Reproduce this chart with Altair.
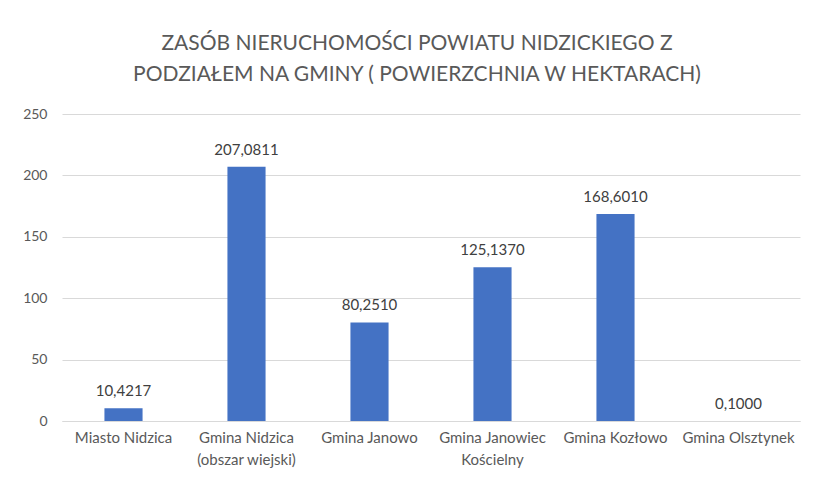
import altair as alt
import pandas as pd

categories = [
    "Miasto Nidzica",
    "Gmina Nidzica\n(obszar wiejski)",
    "Gmina Janowo",
    "Gmina Janowiec\nKościelny",
    "Gmina Kozłowo",
    "Gmina Olsztynek",
]
values = [10.4217, 207.0811, 80.2510, 125.1370, 168.6010, 0.1000]

df = pd.DataFrame({"gmina": categories, "ha": values})

FONT = "Lato"
GRAY = "#595959"

base = alt.Chart(df).encode(
    x=alt.X(
        "gmina:N",
        sort=categories,
        title=None,
        scale=alt.Scale(paddingInner=0.69, paddingOuter=0.345),
        axis=alt.Axis(
            labelAngle=0,
            labelExpr="split(datum.label, '\\n')",
            labelFontSize=15,
            labelColor=GRAY,
            labelFont=FONT,
            labelPadding=9,
            labelLineHeight=22,
            ticks=False,
            grid=False,
            domainColor="#d9d9d9",
            labelLimit=200,
        ),
    ),
    y=alt.Y(
        "ha:Q",
        title=None,
        scale=alt.Scale(domain=[0, 250]),
        axis=alt.Axis(
            values=[0, 50, 100, 150, 200, 250],
            labelFontSize=14,
            labelColor=GRAY,
            labelFont=FONT,
            labelPadding=15,
            ticks=False,
            domain=False,
            gridColor="#d9d9d9",
        ),
    ),
)

bars = base.mark_bar(color="#4472C4")

labels = base.transform_calculate(
    lbl="replace(format(datum.ha, '.4f'), '.', ',')"
).mark_text(
    baseline="bottom", dy=-9, fontSize=15, font=FONT, color="#404040"
).encode(text="lbl:N")

chart = (
    alt.layer(bars, labels)
    .properties(
        width=738,
        height=307,
        background="white",
        padding={"left": 54, "top": 106, "right": 6, "bottom": 51},
        autosize=alt.AutoSizeParams(type="none"),
        title=alt.TitleParams(
            text=[
                "ZASÓB NIERUCHOMOŚCI POWIATU NIDZICKIEGO Z",
                "PODZIAŁEM NA GMINY ( POWIERZCHNIA W HEKTARACH)",
            ],
            fontSize=21,
            font=FONT,
            fontWeight="normal",
            color=GRAY,
            lineHeight=31,
            offset=22,
            dx=-14,
        ),
    )
    .configure_view(stroke="transparent", strokeWidth=0)
)

chart.save("out.html", embed_options={"renderer": "svg", "actions": False})
